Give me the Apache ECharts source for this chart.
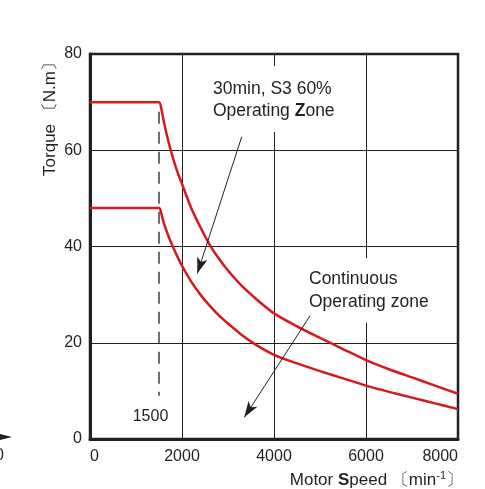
<!DOCTYPE html>
<html><head><meta charset="utf-8">
<script src="https://cdn.jsdelivr.net/npm/echarts@6/dist/echarts.min.js"></script>
<style>html,body{margin:0;padding:0;background:#fff}#c{width:485px;height:489px}</style>
</head><body><div id="c"></div>
<script>
var speedTicks = [0, 2000, 4000, 6000, 8000];
var torqueTicks = [0, 20, 40, 60, 80];
var s3Speed   = [0, 1500, 1550, 1600, 1700, 1800, 1900, 2000, 2200, 2400, 2600, 2800, 3000, 3300, 3600, 4000, 4500, 5000, 5500, 6000, 6500, 7000, 7500, 8000];
var s3Torque  = [70, 70, 68.6, 66.2, 62, 58.5, 55.5, 53, 48, 44, 40.4, 37.5, 35, 31.8, 29.2, 26.1, 23.4, 21, 18.7, 16.4, 14.5, 12.8, 11.1, 9.4];
var contSpeed = [0, 1500, 1550, 1600, 1700, 1800, 1900, 2000, 2200, 2400, 2600, 2800, 3000, 3300, 3600, 4000, 4500, 5000, 5500, 6000, 6500, 7000, 7500, 8000];
var contTorque= [48, 48, 46.9, 45, 42.3, 40, 37.9, 36, 32.7, 30, 27.7, 25.7, 24, 21.6, 19.6, 17.5, 15.7, 14.1, 12.6, 11.1, 9.8, 8.6, 7.4, 6.2];
var baseSpeed = 1500;
var baseLineRange = [68, 9];
var arrowS3   = [[3298, 62.8], [2333, 34.4]];
var arrowCont = [[4783, 25.6], [3354, 4.5]];

var INK = '#231f20', RED = '#d7191f', FONT = '"Liberation Sans", Arial, sans-serif';
function pairs(xs, ys){ return xs.map(function(x,i){ return [x, ys[i]]; }); }

var chart = echarts.init(document.getElementById('c'), null, {renderer:'canvas'});
chart.setOption({
  animation:false,
  backgroundColor:'#fff',
  grid:{left:90, right:27, top:54, bottom:50, show:true, borderColor:INK, borderWidth:2.5, backgroundColor:'transparent'},
  xAxis:{type:'value', min:speedTicks[0], max:speedTicks[speedTicks.length-1], interval:2000,
    axisLine:{show:true, onZero:false, lineStyle:{color:INK, width:3}},
    axisTick:{show:false},
    axisLabel:{color:INK, fontFamily:FONT, fontSize:16, margin:10, alignMinLabel:'left', alignMaxLabel:'right',
      formatter:function(v){ return String(v); }},
    splitLine:{show:true, lineStyle:{color:INK, width:1}}},
  yAxis:{type:'value', min:torqueTicks[0], max:torqueTicks[torqueTicks.length-1], interval:20,
    axisLine:{show:true, onZero:false, lineStyle:{color:INK, width:3}},
    axisTick:{show:false},
    axisLabel:{color:INK, fontFamily:FONT, fontSize:16, margin:8, formatter:function(v){ return String(v); }},
    splitLine:{show:true, lineStyle:{color:INK, width:1}}},
  graphic:[
    {type:'text', z:100, x:50, y:115, rotation:Math.PI/2,
      style:{text:'Torque 〔N.m〕', font:'17px '+FONT, fill:INK, align:'center', verticalAlign:'middle'}},
    {type:'text', z:100, x:463, y:480,
      style:{text:'{n|Motor }{b|S}{n|peed 〔min}{s|-1}{n|〕}', fill:INK, align:'right', verticalAlign:'middle',
        rich:{n:{font:'17px '+FONT, fill:INK}, b:{font:'bold 17px '+FONT, fill:INK}, s:{font:'11px '+FONT, fill:INK, verticalAlign:'top', padding:[0,0,8,0]}}}},
    {type:'rect', z:1, shape:{x:206, y:66, width:136, height:66}, style:{fill:'#fff'}},
    {type:'text', z:5, x:213, y:100,
      style:{text:'{n|30min, S3 60%}\n{n|Operating }{b|Z}{n|one}', fill:INK, align:'left', verticalAlign:'middle',
        rich:{n:{font:'17.5px '+FONT, fill:INK, lineHeight:22}, b:{font:'bold 17.5px '+FONT, fill:INK, lineHeight:22}}}},
    {type:'rect', z:1, shape:{x:303, y:258, width:130, height:65}, style:{fill:'#fff'}},
    {type:'text', z:5, x:309, y:290.5,
      style:{text:'Continuous\nOperating zone', font:'17.5px '+FONT, fill:INK, align:'left', verticalAlign:'middle', lineHeight:23}},
    {type:'text', z:5, x:150.5, y:417,
      style:{text:'1500', font:'16px '+FONT, fill:INK, align:'center', verticalAlign:'middle'}},
    {type:'polygon', z:5, shape:{points:[[0,434],[12,437],[0,440]]}, style:{fill:INK}},
    {type:'text', z:5, x:-5, y:456, style:{text:'0', font:'16px '+FONT, fill:INK, verticalAlign:'middle'}},
    {type:'text', z:5, x:4, y:480, style:{text:'〕', font:'17px '+FONT, fill:INK, align:'right', verticalAlign:'middle'}}
  ],
  series:[
    {type:'line', name:'S3', data:pairs(s3Speed, s3Torque), smooth:0.25, showSymbol:false, z:3,
      lineStyle:{color:RED, width:2.5}},
    {type:'line', name:'Cont', data:pairs(contSpeed, contTorque), smooth:0.25, showSymbol:false, z:3,
      lineStyle:{color:RED, width:2.5}},
    {type:'line', name:'base', data:[[baseSpeed, baseLineRange[0]], [baseSpeed, baseLineRange[1]]], showSymbol:false, z:2,
      lineStyle:{color:INK, width:1.3, type:[12,8]}},
    {type:'line', name:'arrows', data:[], z:6,
      markLine:{silent:true, symbol:['none','arrow'], label:{show:false},
        lineStyle:{color:INK, width:1, type:'solid'},
        emphasis:{disabled:true},
        data:[
          [{coord:arrowS3[0], symbol:'none'},{coord:arrowS3[1], symbol:'arrow', symbolSize:[8,16]}],
          [{coord:arrowCont[0], symbol:'none'},{coord:arrowCont[1], symbol:'arrow', symbolSize:[8,16]}]
        ]}}
  ]
});
</script></body></html>
